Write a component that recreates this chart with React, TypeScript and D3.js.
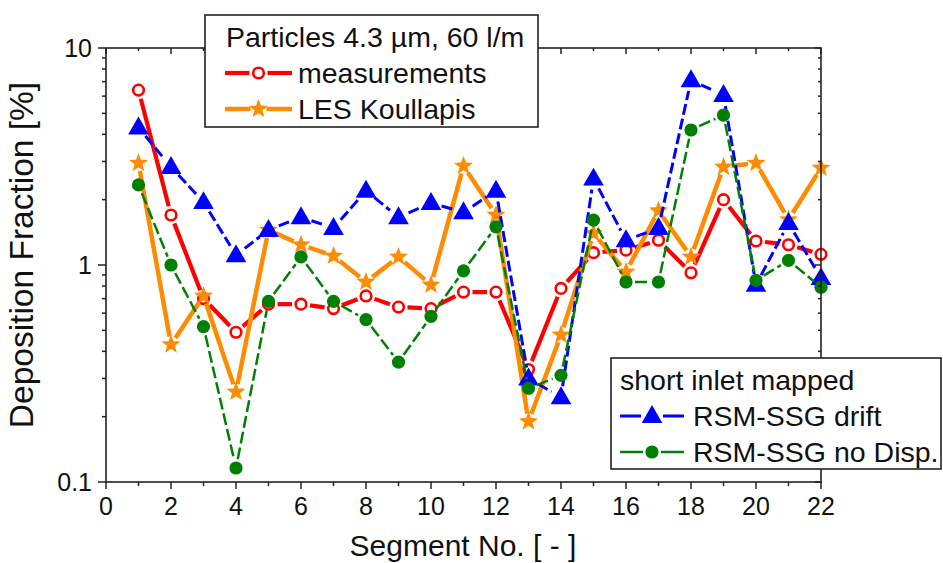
import React from 'react';
import * as d3 from 'd3';

const segments = d3.range(1, 23);
const measurements = [6.4, 1.7, 0.7, 0.49, 0.66, 0.66, 0.63, 0.72, 0.64, 0.63, 0.75, 0.75, 0.33, 0.78, 1.14, 1.17, 1.3, 0.92, 2.0, 1.29, 1.24, 1.12];
const lesKoullapis = [2.95, 0.43, 0.72, 0.26, 1.45, 1.24, 1.1, 0.835, 1.09, 0.81, 2.86, 1.7, 0.19, 0.476, 1.4, 0.93, 1.78, 1.09, 2.83, 2.95, 1.62, 2.8];
const rsmDrift = [4.3, 2.83, 1.95, 1.11, 1.45, 1.66, 1.48, 2.2, 1.66, 1.93, 1.75, 2.2, 0.3, 0.246, 2.5, 1.3, 1.48, 7.1, 6.07, 0.81, 1.56, 0.87];
const rsmNoDisp = [2.34, 1.0, 0.52, 0.116, 0.68, 1.09, 0.68, 0.56, 0.357, 0.58, 0.94, 1.5, 0.27, 0.31, 1.61, 0.835, 0.835, 4.19, 4.91, 0.85, 1.05, 0.79];

const xMajor = d3.range(0, 23, 2);
const xMinor = d3.range(1, 23, 2);
const yMajor = [0.1, 1, 10];
const yMinor = [2, 3, 4, 5, 6, 7, 8, 9].flatMap(m => [m * 0.1, m]);

const W = 943;
const H = 563;
const L = 106, R = 821, T = 48, B = 482;
const FONT = '"Liberation Sans", Arial, sans-serif';

const x = d3.scaleLinear().domain([0, 22]).range([L, R]);
const y = d3.scaleLog().domain([0.1, 10]).range([B, T]);

type Series = {
  name: string;
  values: number[];
  color: string;
  width: number;
  dash?: string;
  gap: number;
  marker: 'circle' | 'star' | 'triangle' | 'dot';
};

const series: Series[] = [
  { name: 'measurements', values: measurements, color: '#ff0000', width: 4.2, gap: 9, marker: 'circle' },
  { name: 'LES Koullapis', values: lesKoullapis, color: '#ff8c00', width: 4.5, gap: 8, marker: 'star' },
  { name: 'RSM-SSG drift', values: rsmDrift, color: '#0000ff', width: 3, dash: '11,4', gap: 11, marker: 'triangle' },
  { name: 'RSM-SSG no Disp.', values: rsmNoDisp, color: '#008000', width: 2.5, dash: '12,4', gap: 9, marker: 'dot' },
];

function starPath(ro: number, ri: number) {
  const pts: [number, number][] = [];
  for (let i = 0; i < 10; i++) {
    const a = -Math.PI / 2 + (i * Math.PI) / 5;
    const r = i % 2 === 0 ? ro : ri;
    pts.push([r * Math.cos(a), r * Math.sin(a)]);
  }
  return 'M' + pts.map(p => p.join(',')).join('L') + 'Z';
}

const trianglePath = d3.symbol(d3.symbolTriangle, 185)() as string;

function Marker({ s, cx, cy }: { s: Series; cx: number; cy: number }) {
  const t = `translate(${cx},${cy})`;
  if (s.marker === 'circle')
    return <circle cx={cx} cy={cy} r={5.3} fill="#fff" stroke={s.color} strokeWidth={2.6} />;
  if (s.marker === 'star') return <path transform={t} d={starPath(10, 4.2)} fill={s.color} />;
  if (s.marker === 'triangle') return <path transform={`translate(${cx},${cy + 1})`} d={trianglePath} fill={s.color} />;
  return <circle cx={cx} cy={cy} r={6.6} fill={s.color} />;
}

function SeriesLine({ s }: { s: Series }) {
  const pts = s.values.map((v, i) => [x(segments[i]), y(v)]);
  const segs = [];
  for (let i = 0; i < pts.length - 1; i++) {
    const [x1, y1] = pts[i];
    const [x2, y2] = pts[i + 1];
    const len = Math.hypot(x2 - x1, y2 - y1);
    if (len <= 2 * s.gap) continue;
    const ux = (x2 - x1) / len, uy = (y2 - y1) / len;
    segs.push(
      <line key={i}
        x1={x1 + ux * s.gap} y1={y1 + uy * s.gap}
        x2={x2 - ux * s.gap} y2={y2 - uy * s.gap}
        stroke={s.color} strokeWidth={s.width} strokeDasharray={s.dash} />
    );
  }
  return (
    <g>
      {segs}
      {pts.map(([cx, cy], i) => <Marker key={i} s={s} cx={cx} cy={cy} />)}
    </g>
  );
}

function LegendRow({ s, x0, x1, ly, tx }: { s: Series; x0: number; x1: number; ly: number; tx: number }) {
  const mid = (x0 + x1) / 2;
  return (
    <g>
      <line x1={x0} y1={ly} x2={mid - s.gap} y2={ly} stroke={s.color} strokeWidth={s.width} />
      <line x1={mid + s.gap} y1={ly} x2={x1} y2={ly} stroke={s.color} strokeWidth={s.width} />
      <Marker s={s} cx={mid} cy={ly} />
      <text x={tx} y={ly + 10} fontSize={28.5} fill="#111">{s.name}</text>
    </g>
  );
}

export default function App() {
  const stroke = '#222';
  return (
    <svg width={W} height={H} style={{ position: 'absolute', left: 0, top: 0, background: '#fff' }} fontFamily={FONT}>
      {/* data */}
      {series.map(s => <SeriesLine key={s.name} s={s} />)}

      {/* frame */}
      <rect x={L} y={T} width={R - L} height={B - T} fill="none" stroke={stroke} strokeWidth={1.6} />
      {xMajor.map(v => (
        <g key={'xM' + v}>
          <line x1={x(v)} x2={x(v)} y1={B} y2={B + 7} stroke={stroke} strokeWidth={1.5} />
          <line x1={x(v)} x2={x(v)} y1={T} y2={T + 6} stroke={stroke} strokeWidth={1.5} />
          <text x={x(v)} y={B + 33} fontSize={25} textAnchor="middle" fill="#111">{v}</text>
        </g>
      ))}
      {xMinor.map(v => (
        <g key={'xm' + v}>
          <line x1={x(v)} x2={x(v)} y1={B} y2={B + 4} stroke={stroke} strokeWidth={1.5} />
          <line x1={x(v)} x2={x(v)} y1={T} y2={T + 3} stroke={stroke} strokeWidth={1.5} />
        </g>
      ))}
      {yMajor.map(v => (
        <g key={'yM' + v}>
          <line x1={L - 8} x2={L} y1={y(v)} y2={y(v)} stroke={stroke} strokeWidth={1.5} />
          <line x1={R - 6} x2={R} y1={y(v)} y2={y(v)} stroke={stroke} strokeWidth={1.5} />
          <text x={L - 14} y={y(v) + 9} fontSize={25} textAnchor="end" fill="#111">{v}</text>
        </g>
      ))}
      {yMinor.map(v => (
        <g key={'ym' + v}>
          <line x1={L - 4} x2={L} y1={y(v)} y2={y(v)} stroke={stroke} strokeWidth={1.5} />
          <line x1={R - 3} x2={R} y1={y(v)} y2={y(v)} stroke={stroke} strokeWidth={1.5} />
        </g>
      ))}

      {/* axis titles */}
      <text x={463} y={556} fontSize={30} textAnchor="middle" fill="#111">Segment No. [ - ]</text>
      <text transform={`translate(33,255) rotate(-90)`} fontSize={33.5} textAnchor="middle" fill="#111">Deposition Fraction [%]</text>

      {/* legend 1 */}
      <rect x={205} y={15} width={333} height={112} fill="#fff" stroke={stroke} strokeWidth={1.6} />
      <text x={226} y={47} fontSize={28.5} fill="#111">Particles 4.3 µm, 60 l/m</text>
      <LegendRow s={series[0]} x0={225} x1={292} ly={73} tx={298} />
      <LegendRow s={series[1]} x0={225} x1={292} ly={109} tx={298} />

      {/* legend 2 */}
      <rect x={611} y={358} width={330} height={111} fill="#fff" stroke={stroke} strokeWidth={1.6} />
      <text x={620} y={390} fontSize={28.5} fill="#111">short inlet mapped</text>
      <LegendRow s={series[2]} x0={620} x1={684} ly={416} tx={693} />
      <LegendRow s={series[3]} x0={620} x1={684} ly={452} tx={693} />
    </svg>
  );
}
